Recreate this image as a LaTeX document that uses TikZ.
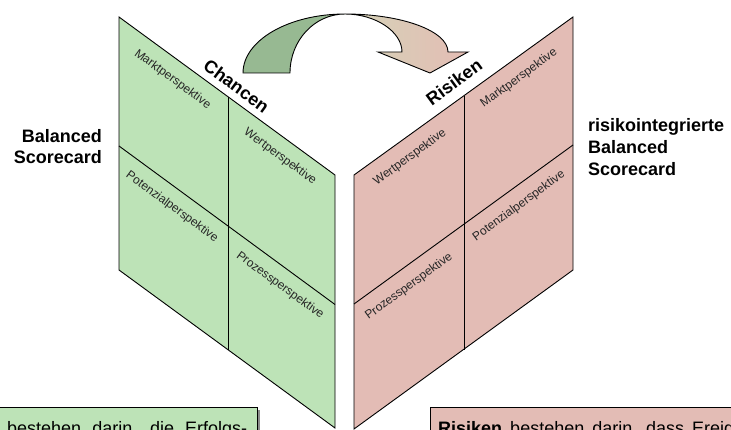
\documentclass[tikz,border=0pt]{standalone}
\usepackage{fontspec}
\setmainfont{Liberation Sans}
\definecolor{pgreen}{RGB}{189,227,183}
\definecolor{ppink}{RGB}{227,188,181}
\definecolor{agreen}{RGB}{151,185,146}
\definecolor{abeige}{RGB}{212,212,184}
\definecolor{apink}{RGB}{228,188,180}
\begin{document}
\begin{tikzpicture}[x=1pt,y=-1pt,
  edge/.style={draw=black, line width=0.9pt, line join=miter},
  persp/.style={font=\fontsize{12}{14}\selectfont, inner sep=0pt, text=black!85},
  title/.style={font=\fontsize{18}{21.7}\selectfont\bfseries, inner sep=0pt},
  boxtext/.style={font=\fontsize{18}{21}\selectfont, inner sep=0pt, anchor=base west},
  infobox/.style={draw=black, line width=0.9pt},
  shadowbox/.style={fill=black!45, draw=none}]
\useasboundingbox (0,0) rectangle (731,430);

% ---- left panel (Balanced Scorecard)
\coordinate (LTL) at (119,17);
\coordinate (LTR) at (335,175);
\coordinate (LBR) at (335,428);
\coordinate (LBL) at (119,270);
\coordinate (LMT) at (228,96.7);
\coordinate (LMB) at (228,349.7);
\coordinate (LDL) at (119,146);
\coordinate (LDR) at (335,304.5);
\path[edge, fill=pgreen] (LTL) -- (LTR) -- (LBR) -- (LBL) -- cycle;
\draw[edge] (LMT) -- (LMB);
\draw[edge] (LDL) -- (LDR);

% ---- right panel (risikointegrierte Balanced Scorecard)
\coordinate (RTR) at (573,17);
\coordinate (RTL) at (354,175);
\coordinate (RBL) at (354,429);
\coordinate (RBR) at (573,270);
\coordinate (RMT) at (464,95.6);
\coordinate (RMB) at (464,349.6);
\coordinate (RDR) at (573,145);
\coordinate (RDL) at (354,304);
\path[edge, fill=ppink] (RTR) -- (RTL) -- (RBL) -- (RBR) -- cycle;
\draw[edge] (RMT) -- (RMB);
\draw[edge] (RDR) -- (RDL);

% ---- curved arrow
\coordinate (Atop) at (345,14);
\path[edge, left color=abeige, right color=apink]
  (Atop) .. controls (401.9,14) and (448,31) .. (448,52)
  -- (468,52) -- (430,73) -- (378,52) -- (402,52)
  .. controls (402,31.6) and (375.4,14) .. (Atop) -- cycle;
\path[edge, fill=agreen]
  (243,73) .. controls (243,40.4) and (288.7,14) .. (Atop)
  .. controls (314.6,14) and (290,40.4) .. (290,73) -- cycle;

% ---- titles
\node[title, rotate=-36.2] (chancen) at (236.5,86) {Chancen};
\node[title, rotate=36.2] (risiken) at (454,82) {Risiken};
\node[title, align=right, anchor=north east] (bsc) at (102,129) {Balanced\\Scorecard};
\node[title, align=left, anchor=north west] (rbsc) at (588,118.5) {risikointegrierte\\Balanced\\Scorecard};

% ---- perspective labels
\node[persp, rotate=-36.2] (lmarkt) at (172.5,79.5) {Marktperspektive};
\node[persp, rotate=-36.2] (lwert) at (280,156.5) {Wertperspektive};
\node[persp, rotate=-36.2] (lpot) at (172,207) {Potenzialperspektive};
\node[persp, rotate=-36.2] (lproz) at (280,285.5) {Prozessperspektive};
\node[persp, rotate=36.2] (rwert) at (410,157.5) {Wertperspektive};
\node[persp, rotate=36.2] (rmarkt) at (519,78.3) {Marktperspektive};
\node[persp, rotate=36.2] (rpot) at (519,206) {Potenzialperspektive};
\node[persp, rotate=36.2] (rproz) at (409,286.5) {Prozessperspektive};

% ---- text boxes (cut by the frame)
\begin{scope}
\clip (0,0) rectangle (731,430);
\fill[shadowbox] (-17.5,409.5) rectangle (259.5,460);
\path[infobox, fill=pgreen] (-20,407) rectangle (257,460);
\node[boxtext] (ltext) at (7,434.8) {\makebox[240pt][s]{bestehen darin, die Erfolgs-}};
\fill[shadowbox] (432.5,409.5) rectangle (760,460);
\path[infobox, fill=ppink] (430,407) rectangle (757,460);
\node[boxtext] (rtext) at (438,434.8) {\makebox[338pt][s]{\textbf{Risiken} bestehen darin, dass Ereignisse}};
\end{scope}
\end{tikzpicture}
\end{document}
